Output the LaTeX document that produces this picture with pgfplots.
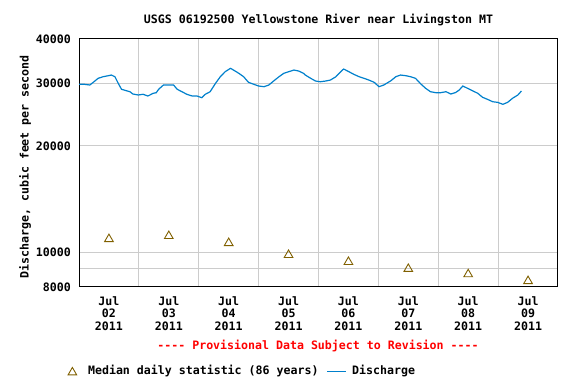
\documentclass[border=0pt]{standalone}
\usepackage{pgfplots}
\pgfplotsset{compat=1.18}
\usepackage{fontspec}
\setmonofont{DejaVu Sans Mono}
\definecolor{qblue}{RGB}{0,128,204}
\definecolor{medbrown}{RGB}{128,96,0}
\definecolor{gridgray}{RGB}{204,204,204}
\newcommand{\cf}{\ttfamily\bfseries\fontsize{11.6}{12.7}\selectfont}
\pgfplotsset{
  trileg/.style={legend image code/.code={\draw[##1] plot coordinates {(8.5pt,0pt)}; \path (0pt,0pt) (22pt,0pt);}},
  lineleg/.style={legend image code/.code={\draw[##1, line width=0.8pt] (0pt,0pt) -- (19pt,0pt); \path (0pt,0pt) (22.5pt,0pt);}},
}
\begin{document}
\begin{tikzpicture}
\path[use as bounding box] (0pt,0pt) rectangle (576pt,384pt);
\begin{axis}[
  at={(79pt,97pt)}, anchor=south west,
  scale only axis, width=479pt, height=248pt,
  ymode=log, xmin=0, xmax=8, ymin=8000, ymax=40000,
  axis line style={black, line width=1pt},
  xtick={0.5,1.5,2.5,3.5,4.5,5.5,6.5,7.5},
  xticklabels={{Jul\\02\\2011},{Jul\\03\\2011},{Jul\\04\\2011},{Jul\\05\\2011},{Jul\\06\\2011},{Jul\\07\\2011},{Jul\\08\\2011},{Jul\\09\\2011}},
  minor xtick={1,2,3,4,5,6,7},
  xminorgrids=true, xmajorgrids=false,
  ytick={8000,9000,10000,20000,30000,40000},
  yticklabels={8000,,10000,20000,30000,40000},
  ymajorgrids=true, yminorgrids=false,
  grid style={gridgray, line width=1pt},
  minor grid style={gridgray, line width=1pt},
  major tick length=0pt, minor tick length=0pt,
  xticklabel style={font=\cf, align=center, inner sep=0pt, anchor=north, yshift=-9pt},
  yticklabel style={font=\cf, inner sep=0pt, anchor=east, xshift=-8pt},
  title={USGS 06192500 Yellowstone River near Livingston MT},
  title style={font=\cf, at={(axis description cs:0.5,1)}, anchor=south, inner sep=0pt, yshift=7pt},
  ylabel={Discharge, cubic feet per second},
  every axis y label/.style={at={(axis description cs:-0.1127,0.484)}, rotate=90, anchor=center, font=\cf},
  legend columns=2,
  legend style={at={(axis description cs:-0.0324,-0.3387)}, anchor=west, draw=none, fill=none, inner sep=0pt, font=\cf,
    /tikz/every even column/.append style={column sep=6pt}},
]
\addplot[only marks, mark=triangle, mark size=5pt, mark options={medbrown, line width=0.9pt, yshift=-1.45pt}, trileg]
  coordinates {(0.5,11020) (1.5,11240) (2.5,10740) (3.5,9940) (4.5,9500) (5.5,9080) (6.5,8770) (7.5,8390)};
\addlegendentry{Median daily statistic (86 years)}
\addplot[qblue, line width=1.2pt, lineleg] table {
0.00 29810
0.09 29810
0.18 29670
0.23 30120
0.32 30990
0.40 31310
0.49 31520
0.54 31660
0.60 31310
0.65 30120
0.71 28860
0.79 28600
0.85 28410
0.90 27990
0.99 27810
1.07 27940
1.15 27630
1.24 28120
1.29 28230
1.33 28860
1.41 29670
1.50 29670
1.58 29670
1.64 28860
1.72 28410
1.80 27940
1.89 27630
1.97 27630
2.05 27330
2.11 27940
2.19 28410
2.28 30000
2.36 31310
2.44 32340
2.53 33070
2.58 32700
2.67 32010
2.75 31310
2.83 30200
2.92 29810
3.00 29480
3.09 29350
3.17 29670
3.25 30450
3.34 31310
3.42 32010
3.50 32340
3.59 32700
3.67 32490
3.75 32010
3.78 31660
3.87 30990
3.95 30450
4.03 30310
4.12 30450
4.20 30650
4.29 31310
4.37 32340
4.42 32920
4.51 32340
4.59 31800
4.68 31310
4.76 30990
4.84 30650
4.93 30200
5.01 29350
5.09 29670
5.21 30510
5.29 31310
5.37 31660
5.46 31520
5.54 31310
5.62 30990
5.71 29860
5.79 29040
5.87 28410
5.96 28230
6.04 28230
6.13 28410
6.21 27990
6.29 28260
6.35 28720
6.41 29480
6.49 29040
6.57 28600
6.66 28120
6.74 27400
6.82 27050
6.91 26620
6.99 26520
7.08 26180
7.16 26520
7.24 27220
7.33 27810
7.39 28540
};
\addlegendentry{Discharge}
\end{axis}
\node[font=\cf, text=red, anchor=center] at (318pt,38pt) {---- Provisional Data Subject to Revision ----};
\end{tikzpicture}
\end{document}
